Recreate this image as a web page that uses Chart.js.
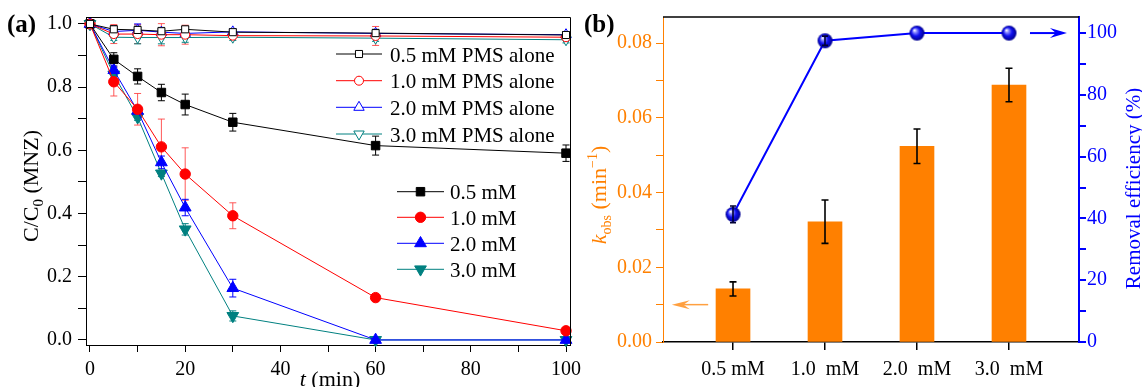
<!DOCTYPE html>
<html><head><meta charset="utf-8">
<script src="https://cdn.jsdelivr.net/npm/chart.js"></script>
<style>
html,body{margin:0;padding:0;background:#fff;width:1142px;height:387px;overflow:hidden;}
canvas{position:absolute;top:0;}
#ca{left:0;} #cb{left:575px;}
</style></head><body>
<canvas id="ca" width="600" height="387"></canvas>
<canvas id="cb" width="567" height="387"></canvas>
<script>
// ---------- Panel (a) data ----------
const tMin = [0, 5, 10, 15, 20, 30, 60, 100];
const pms05 = [1.0, 0.983, 0.981, 0.977, 0.983, 0.974, 0.971, 0.965];
const pms10 = [1.0, 0.968, 0.968, 0.966, 0.966, 0.963, 0.962, 0.958];
const pms20 = [1.0, 0.976, 0.980, 0.974, 0.970, 0.975, 0.970, 0.966];
const pms30 = [1.0, 0.958, 0.957, 0.957, 0.957, 0.958, 0.955, 0.950];
const pms05Err = [0, 0.012, 0.012, 0.012, 0.010, 0.010, 0.012, 0.010];
const pms10Err = [0, 0.030, 0.030, 0.035, 0.030, 0.010, 0.030, 0.010];
const pms20Err = [0, 0.010, 0.020, 0.010, 0.010, 0.010, 0.010, 0.010];
const pms30Err = [0, 0.010, 0.020, 0.020, 0.015, 0.010, 0.010, 0.010];
const c05 = [1.0, 0.888, 0.834, 0.783, 0.745, 0.689, 0.615, 0.591];
const c10 = [1.0, 0.817, 0.730, 0.611, 0.525, 0.393, 0.134, 0.029];
const c20 = [1.0, 0.854, 0.725, 0.562, 0.419, 0.164, 0.0, 0.0];
const c30 = [1.0, 0.840, 0.705, 0.527, 0.350, 0.076, 0.0, 0.0];
const c05Err = [0, 0.021, 0.024, 0.026, 0.033, 0.028, 0.030, 0.026];
const c10Err = [0, 0.045, 0.050, 0.088, 0.083, 0.041, 0.005, 0.005];
const c20Err = [0, 0.010, 0.010, 0.020, 0.026, 0.028, 0.005, 0];
const c30Err = [0, 0.010, 0.010, 0.010, 0.018, 0.016, 0, 0];
const labelsPMS = ['0.5 mM PMS alone', '1.0 mM PMS alone', '2.0 mM PMS alone', '3.0 mM PMS alone'];
const labelsMain = ['0.5 mM', '1.0 mM', '2.0 mM', '3.0 mM'];

// ---------- Panel (b) data ----------
const categories = ['0.5 mM', '1.0  mM', '2.0  mM', '3.0  mM'];
const kobs = [0.0142, 0.0322, 0.0524, 0.0688];
const kobsErr = [0.0019, 0.0058, 0.0046, 0.0045];
const removal = [41.3, 97.5, 100, 100];
const removalErr = [2.7, 1.5, 0, 0];

const SERIF = '"Liberation Serif", "Times New Roman", serif';
const BLACK = '#000000', RED = '#FF0000', BLUE = '#0000FF', TEAL = '#008080', ORANGE = '#FF8000';

function pts(ys) { return tMin.map((t, i) => ({x: t, y: ys[i]})); }

function drawMarker(ctx, style, x, y, r, rot, fill, stroke, lw) {
  ctx.save(); ctx.beginPath();
  if (style === 'rect') { const s = r * Math.SQRT1_2; ctx.rect(x - s, y - s, 2 * s, 2 * s); }
  else if (style === 'circle') { ctx.arc(x, y, r, 0, Math.PI * 2); }
  else { let a = (rot || 0) * Math.PI / 180;
    ctx.moveTo(x + Math.sin(a) * r, y - Math.cos(a) * r); a += 2 * Math.PI / 3;
    ctx.lineTo(x + Math.sin(a) * r, y - Math.cos(a) * r); a += 2 * Math.PI / 3;
    ctx.lineTo(x + Math.sin(a) * r, y - Math.cos(a) * r); ctx.closePath(); }
  ctx.fillStyle = fill; ctx.fill(); ctx.lineWidth = lw; ctx.strokeStyle = stroke; ctx.stroke(); ctx.restore();
}

function drawRich(ctx, cx, cy, parts, rot, color) {
  ctx.save(); ctx.translate(cx, cy); if (rot) ctx.rotate(-Math.PI / 2);
  let total = 0;
  parts.forEach(p => { ctx.font = p.font; p.w = ctx.measureText(p.t).width; total += p.w; });
  let x = -total / 2; ctx.fillStyle = color; ctx.textBaseline = 'alphabetic'; ctx.textAlign = 'left';
  parts.forEach(p => { ctx.font = p.font; ctx.fillText(p.t, x, p.dy || 0); x += p.w; });
  ctx.restore();
}

function errorBars(chart, dsIndex, errs, color, cap, lw) {
  const meta = chart.getDatasetMeta(dsIndex);
  const ys = chart.scales[meta.yAxisID];
  const ctx = chart.ctx;
  const data = chart.data.datasets[dsIndex].data;
  ctx.save(); ctx.strokeStyle = color; ctx.lineWidth = lw;
  meta.data.forEach((el, i) => {
    const e = errs[i]; if (!e) return;
    const v = data[i].y;
    const x = el.x, y1 = ys.getPixelForValue(v + e), y2 = ys.getPixelForValue(v - e);
    ctx.beginPath(); ctx.moveTo(x, y1); ctx.lineTo(x, y2);
    ctx.moveTo(x - cap, y1); ctx.lineTo(x + cap, y1);
    ctx.moveTo(x - cap, y2); ctx.lineTo(x + cap, y2); ctx.stroke();
  });
  ctx.restore();
}

function mkDs(label, ys, color, style, r, rot, open) {
  return {label: label, data: pts(ys), borderColor: color, borderWidth: 1, tension: 0,
    pointStyle: style, pointRadius: r, pointHoverRadius: r, pointRotation: rot,
    pointBackgroundColor: open ? '#FFFFFF' : color, pointBorderColor: color, pointBorderWidth: 1, clip: false};
}

const dsA = [
  mkDs(labelsPMS[0], pms05, BLACK, 'rect', 5, 0, true),
  mkDs(labelsPMS[1], pms10, RED, 'circle', 4.5, 0, true),
  mkDs(labelsPMS[2], pms20, BLUE, 'triangle', 6, 0, true),
  mkDs(labelsPMS[3], pms30, TEAL, 'triangle', 6, 180, true),
  mkDs(labelsMain[0], c05, BLACK, 'rect', 6, 0, false),
  mkDs(labelsMain[1], c10, RED, 'circle', 5.2, 0, false),
  mkDs(labelsMain[2], c20, BLUE, 'triangle', 6.8, 0, false),
  mkDs(labelsMain[3], c30, TEAL, 'triangle', 6.8, 180, false)
];
const errA = [pms05Err, pms10Err, pms20Err, pms30Err, c05Err, c10Err, c20Err, c30Err];
const errColA = [BLACK, 'rgba(255,60,60,0.85)', BLUE, TEAL, BLACK, 'rgba(255,60,60,0.85)', BLUE, TEAL];

const pluginA = {
  id: 'pa',
  beforeDatasetsDraw(chart) {
    errA.forEach((e, i) => errorBars(chart, i, e, errColA[i], 3.5, 1));
  },
  afterDraw(chart) {
    const ctx = chart.ctx, ca = chart.chartArea;
    ctx.save(); ctx.strokeStyle = BLACK; ctx.lineWidth = 1;
    ctx.beginPath(); ctx.moveTo(ca.left, ca.top + 0.5); ctx.lineTo(ca.right + 0.5, ca.top + 0.5);
    ctx.lineTo(ca.right + 0.5, ca.bottom); ctx.stroke(); ctx.restore();
    // legends
    const ds = chart.data.datasets;
    const legFont = '21px ' + SERIF;
    const up = [54, 80.7, 107.3, 134], lo = [191.7, 217.3, 243.3, 269.3];
    function item(d, y, x1, x2, tx) {
      ctx.save(); ctx.strokeStyle = d.borderColor; ctx.lineWidth = 1;
      ctx.beginPath(); ctx.moveTo(x1, y); ctx.lineTo(x2, y); ctx.stroke(); ctx.restore();
      drawMarker(ctx, d.pointStyle, (x1 + x2) / 2, y, d.pointRadius, d.pointRotation, d.pointBackgroundColor, d.borderColor, 1);
      ctx.save(); ctx.font = legFont; ctx.fillStyle = BLACK; ctx.textAlign = 'left'; ctx.textBaseline = 'alphabetic';
      ctx.fillText(d.label, tx, y + 7.5); ctx.restore();
    }
    for (let i = 0; i < 4; i++) item(ds[i], up[i], 336, 382, 390);
    for (let i = 0; i < 4; i++) item(ds[4 + i], lo[i], 397, 444, 450);
    // titles
    drawRich(ctx, 37.5, 186, [{t: 'C/C', font: '22px ' + SERIF}, {t: '0', font: '15px ' + SERIF, dy: 5}, {t: ' (MNZ)', font: '22px ' + SERIF}], true, BLACK);
    drawRich(ctx, 330, 386, [{t: 't', font: 'italic 22px ' + SERIF}, {t: ' (min)', font: '22px ' + SERIF}], false, BLACK);
    ctx.save(); ctx.font = 'bold 25px ' + SERIF; ctx.fillStyle = BLACK; ctx.textAlign = 'left'; ctx.textBaseline = 'alphabetic';
    ctx.fillText('(a)', 7, 32); ctx.restore();
  }
};

new Chart(document.getElementById('ca'), {
  type: 'line',
  data: {datasets: dsA},
  options: {
    responsive: false, animation: false, devicePixelRatio: 1,
    layout: {padding: {left: 0, right: 30, top: 17, bottom: 0}},
    plugins: {legend: {display: false}, tooltip: {enabled: false}},
    events: [],
    scales: {
      x: {type: 'linear', min: -0.84, max: 100.84,
        ticks: {stepSize: 10, maxTicksLimit: 100, autoSkip: false, maxRotation: 0, includeBounds: false, color: BLACK,
          font: {family: SERIF, size: 20}, padding: 6,
          callback: v => (Math.round(v) % 20 === 0 ? String(Math.round(v)) : '')},
        grid: {drawOnChartArea: false, drawTicks: true, tickLength: 7, color: BLACK, lineWidth: 1},
        border: {display: true, color: BLACK, width: 1},
        afterFit(s) { s.height = 42; s.paddingLeft = 0; s.paddingRight = 0; }
      },
      y: {type: 'linear', min: -0.016, max: 1.022,
        ticks: {stepSize: 0.1, maxTicksLimit: 100, autoSkip: false, includeBounds: false, color: BLACK,
          font: {family: SERIF, size: 20}, padding: 6,
          callback: v => (Math.round(v * 10) % 2 === 0 ? v.toFixed(1) : '')},
        grid: {drawOnChartArea: false, drawTicks: true, tickLength: 8, color: BLACK, lineWidth: 1},
        border: {display: true, color: BLACK, width: 1},
        afterFit(s) { s.width = 86; s.paddingTop = 0; s.paddingBottom = 0; }
      }
    }
  },
  plugins: [pluginA]
});

// ---------- Panel (b) ----------
function sphere(r) {
  const c = document.createElement('canvas');
  const s = Math.ceil(r * 2) + 2; c.width = s; c.height = s;
  const g = c.getContext('2d'); const m = s / 2;
  const grad = g.createRadialGradient(m - r * 0.35, m - r * 0.4, r * 0.05, m, m, r);
  grad.addColorStop(0, '#FFFFFF'); grad.addColorStop(0.2, '#9090FF');
  grad.addColorStop(0.55, '#1010F0'); grad.addColorStop(1, '#00008A');
  g.fillStyle = grad; g.beginPath(); g.arc(m, m, r, 0, Math.PI * 2); g.fill();
  return c;
}
const ball = sphere(7.5);

function arrow(ctx, x1, y, x2, color, lw, hl, hw) {
  const dir = Math.sign(x2 - x1);
  ctx.save(); ctx.strokeStyle = color; ctx.fillStyle = color; ctx.lineWidth = lw;
  ctx.beginPath(); ctx.moveTo(x1, y); ctx.lineTo(x2 - dir * hl * 0.6, y); ctx.stroke();
  ctx.beginPath(); ctx.moveTo(x2, y); ctx.lineTo(x2 - dir * hl, y - hw); ctx.lineTo(x2 - dir * hl * 0.65, y);
  ctx.lineTo(x2 - dir * hl, y + hw); ctx.closePath(); ctx.fill(); ctx.restore();
}

const pluginB = {
  id: 'pb',
  afterDatasetsDraw(chart) {
    errorBars(chart, 1, kobsErr, BLACK, 3.5, 1.6);
    errorBars(chart, 0, removalErr, '#000033', 3, 1.6);
    const ctx = chart.ctx, ca = chart.chartArea, xs = chart.scales.x, yL = chart.scales.yL, yR = chart.scales.yR;
    arrow(ctx, xs.getPixelForValue(3.228), yR.getPixelForValue(100), xs.getPixelForValue(3.63), BLUE, 2, 17, 5);
    arrow(ctx, xs.getPixelForValue(-0.27), yL.getPixelForValue(0.01), xs.getPixelForValue(-0.665), '#FFA040', 1.5, 18, 4.5);
  },
  afterDraw(chart) {
    const ctx = chart.ctx, ca = chart.chartArea;
    ctx.save(); ctx.strokeStyle = BLACK; ctx.lineWidth = 1.5;
    ctx.beginPath(); ctx.moveTo(ca.left, ca.top); ctx.lineTo(ca.right, ca.top); ctx.stroke(); ctx.restore();
    drawRich(ctx, 31, 195, [
      {t: 'k', font: 'italic 22px ' + SERIF}, {t: 'obs', font: '14px ' + SERIF, dy: 5},
      {t: ' (min', font: '22px ' + SERIF}, {t: '\u22121', font: '14px ' + SERIF, dy: -9},
      {t: ')', font: '22px ' + SERIF}], true, ORANGE);
    drawRich(ctx, 565, 188.5, [{t: 'Removal efficiency (%)', font: '21px ' + SERIF}], true, BLUE);
    ctx.save(); ctx.font = 'bold 25px ' + SERIF; ctx.fillStyle = BLACK; ctx.textAlign = 'left'; ctx.textBaseline = 'alphabetic';
    ctx.fillText('(b)', 9, 32); ctx.restore();
  }
};

new Chart(document.getElementById('cb'), {
  type: 'bar',
  data: {datasets: [
    {type: 'line', label: 'Removal efficiency', data: removal.map((v, i) => ({x: i, y: v})), yAxisID: 'yR',
      borderColor: BLUE, borderWidth: 2, pointStyle: ball, pointRadius: 7.5, pointHoverRadius: 7.5, order: 0, clip: false, tension: 0},
    {type: 'bar', label: 'kobs', data: kobs.map((v, i) => ({x: i, y: v})), yAxisID: 'yL',
      backgroundColor: ORANGE, borderWidth: 0, barThickness: 34, order: 1}
  ]},
  options: {
    responsive: false, animation: false, devicePixelRatio: 1, events: [],
    layout: {padding: {left: 0, right: 0, top: 17, bottom: 0}},
    plugins: {legend: {display: false}, tooltip: {enabled: false}},
    scales: {
      x: {type: 'linear', min: -0.761, max: 3.761, offset: false,
        ticks: {stepSize: 1, maxTicksLimit: 100, autoSkip: false, maxRotation: 0, includeBounds: false, color: BLACK,
          font: {family: SERIF, size: 20}, padding: 8,
          callback: v => (categories[v] !== undefined ? categories[v] : '')},
        grid: {offset: false, drawOnChartArea: false, drawTicks: true, tickLength: 8, color: BLACK, lineWidth: 1.5},
        border: {display: true, color: BLACK, width: 1.5},
        afterFit(s) { s.height = 45; s.paddingLeft = 0; s.paddingRight = 0; }
      },
      yL: {type: 'linear', position: 'left', min: 0, max: 0.087,
        ticks: {stepSize: 0.01, maxTicksLimit: 100, autoSkip: false, includeBounds: false, color: ORANGE,
          font: {family: SERIF, size: 20}, padding: 4,
          callback: v => (Math.round(v * 100) % 2 === 0 ? v.toFixed(2) : '')},
        grid: {drawOnChartArea: false, drawTicks: true, tickLength: 7, color: ORANGE, lineWidth: 1},
        border: {display: true, color: ORANGE, width: 1},
        afterFit(s) { s.width = 88; s.paddingTop = 0; s.paddingBottom = 0; }
      },
      yR: {type: 'linear', position: 'right', min: 0, max: 105.2,
        ticks: {stepSize: 10, maxTicksLimit: 100, autoSkip: false, includeBounds: false, color: BLUE,
          font: {family: SERIF, size: 20}, padding: 1,
          callback: v => (Math.round(v) % 20 === 0 ? String(Math.round(v)) : '')},
        grid: {drawOnChartArea: false, drawTicks: true, tickLength: 7, color: BLUE, lineWidth: 2},
        border: {display: true, color: BLUE, width: 2},
        afterFit(s) { s.width = 63; s.paddingTop = 0; s.paddingBottom = 0; }
      }
    }
  },
  plugins: [pluginB]
});
</script></body></html>
